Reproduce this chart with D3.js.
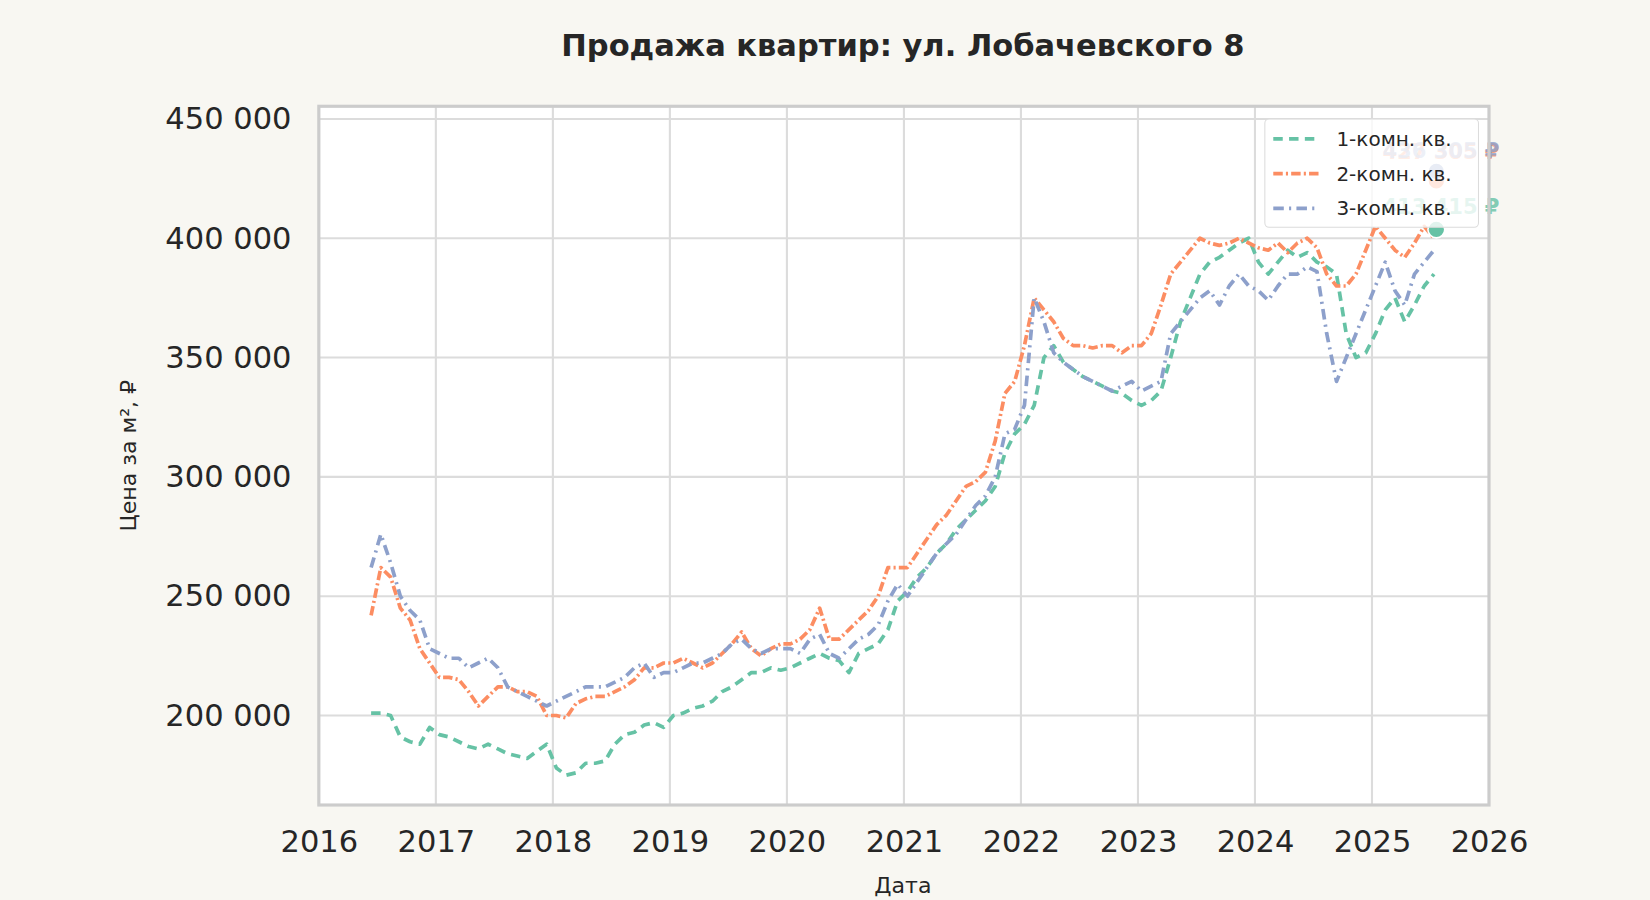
<!DOCTYPE html>
<html><head><meta charset="utf-8">
<script src="https://cdn.jsdelivr.net/npm/d3@7"></script>
<style>body{margin:0;background:#f8f7f2;font-family:"DejaVu Sans",sans-serif;}</style>
</head><body><div id="chart"></div>
<script>
// monthly values, thousands ₽ per m², from Jun 2016 to Jul 2025
const startYear = 2016 + 5/12;
const oneRoom = [201,201,200,191,189,188,195,
 192,191,189,187,186,188,186,184,183,182,185,188,
 178,175,176,180,180,181,188,192,193,196,197,195,
 200,201,203,204,206,210,212,215,218,218,220,219,
 220,222,224,226,224,223,218,226,228,230,236,248,
 252,258,262,268,272,278,282,286,290,296,310,318,
 322,330,350,355,348,345,342,340,338,336,335,332,
 330,332,336,350,365,375,385,390,392,395,398,400,
 390,385,390,395,392,394,390,388,385,360,350,352,
 360,370,375,365,372,380,385];
const twoRoom = [242,262,258,245,240,228,222,
 216,216,215,210,204,208,212,212,210,210,208,200,
 200,199,205,207,208,208,210,212,215,220,220,222,
 222,224,222,220,222,226,230,235,228,225,228,230,
 230,232,236,245,232,232,236,240,244,250,262,262,
 262,268,274,280,284,290,296,298,302,315,335,340,
 355,375,370,365,358,355,355,354,355,355,352,355,
 355,360,372,385,390,395,400,398,397,398,400,398,
 396,395,398,394,398,400,396,385,380,380,385,395,
 405,400,395,392,398,405,400];
const threeRoom = [262,276,264,250,244,240,228,
 226,224,224,220,222,224,220,212,210,208,206,204,
 206,208,210,212,212,212,214,216,220,222,216,218,
 218,220,222,222,224,226,230,232,228,226,228,228,
 228,226,232,234,226,224,228,232,234,238,248,255,
 250,256,262,268,272,276,282,288,292,300,318,320,
 330,375,365,352,348,345,342,340,338,336,338,340,
 336,338,340,360,365,370,375,378,372,380,385,380,
 378,374,380,385,385,388,386,360,340,350,360,370,
 380,390,378,372,385,390,395];
const seriesNames = ["1-комн. кв.","2-комн. кв.","3-комн. кв."];
const colors = ["#66c2a5","#fc8d62","#8da0cb"];
const dashes = ["9,6","9,3,2,3","10,5,2,5"];
const endDotValues = [403700, 424000, 428000];
const endLabelValues = [413400, 436300, 436800];
const endLabels = ["413 415 ₽","427 305 ₽","436 305 ₽"];
const yTicks = [200000,250000,300000,350000,400000,450000];
const xTicks = d3.range(2016, 2027);

const W = 1650, H = 900, k0 = 1650 / 1568;
const m = {left:303, right:1415, top:101, bottom:765};
const root = d3.select("#chart").append("svg").attr("width", W).attr("height", H);
const svg = root.append("g").attr("transform", `scale(${k0})`);
const x = d3.scaleLinear().domain([2016, 2026]).range([m.left, m.right]);
const y = d3.scaleLinear().domain([162500, 455300]).range([m.bottom, m.top]);
const fmt = v => d3.format(",")(v).replace(/,/g, " ");

svg.append("rect").attr("x", m.left).attr("y", m.top).attr("width", m.right - m.left)
  .attr("height", m.bottom - m.top).attr("fill", "#fff");

// grid
svg.append("g").selectAll("line").data(xTicks).join("line")
  .attr("x1", d => x(d)).attr("x2", d => x(d)).attr("y1", m.top).attr("y2", m.bottom)
  .attr("stroke", "#dcdcdc").attr("stroke-width", 2);
svg.append("g").selectAll("line").data(yTicks).join("line")
  .attr("y1", d => y(d)).attr("y2", d => y(d)).attr("x1", m.left).attr("x2", m.right)
  .attr("stroke", "#dcdcdc").attr("stroke-width", 2);

// axes
svg.append("g").attr("transform", `translate(0,${m.bottom})`)
  .call(d3.axisBottom(x).tickValues(xTicks).tickFormat(d3.format("d")).tickSize(0).tickPadding(24))
  .call(g => g.select(".domain").remove())
  .call(g => g.selectAll("text").attr("font-size", 29).attr("fill", "#262626").attr("font-family", "DejaVu Sans"));
svg.append("g").attr("transform", `translate(${m.left},0)`)
  .call(d3.axisLeft(y).tickValues(yTicks).tickFormat(fmt).tickSize(0).tickPadding(26))
  .call(g => g.select(".domain").remove())
  .call(g => g.selectAll("text").attr("font-size", 29).attr("fill", "#262626").attr("font-family", "DejaVu Sans"));

// lines
const all = [oneRoom, twoRoom, threeRoom];
const line = d3.line().x((d, i) => x(startYear + i / 12 + 0.03)).y(d => y(d * 1000));
const plot = svg.append("g");
all.forEach((s, k) => {
  plot.append("path").datum(s).attr("d", line).attr("fill", "none")
    .attr("stroke", colors[k]).attr("stroke-width", 3.5).attr("stroke-dasharray", dashes[k])
    .attr("stroke-linejoin", "round");
});

// end labels and dots
const lastX = x(2025.55);
endLabels.forEach((t, k) => {
  svg.append("text").attr("x", m.right + 10).attr("y", y(endLabelValues[k])).attr("dy", "0.35em")
    .attr("text-anchor", "end").attr("font-size", 20).attr("font-weight", "bold")
    .attr("fill", colors[k]).attr("opacity", 0.8).text(t);
});
endDotValues.forEach((v, k) => {
  svg.append("circle").attr("cx", lastX).attr("cy", y(v)).attr("r", 8)
    .attr("fill", colors[k]).attr("stroke", "#fff").attr("stroke-width", 1.5);
});

// frame
svg.append("rect").attr("x", m.left).attr("y", m.top).attr("width", m.right - m.left)
  .attr("height", m.bottom - m.top).attr("fill", "none").attr("stroke", "#cccccc").attr("stroke-width", 3);

// legend
const lg = svg.append("g").attr("transform", "translate(1202,113)");
lg.append("rect").attr("width", 203).attr("height", 103).attr("rx", 4)
  .attr("fill", "#fff").attr("fill-opacity", 0.8).attr("stroke", "#dcdcdc");
seriesNames.forEach((n, k) => {
  const yy = 19 + k * 33;
  lg.append("line").attr("x1", 8).attr("x2", 52).attr("y1", yy).attr("y2", yy)
    .attr("stroke", colors[k]).attr("stroke-width", 3.5).attr("stroke-dasharray", dashes[k]);
  lg.append("text").attr("x", 68).attr("y", yy).attr("dy", "0.35em").attr("font-size", 19)
    .attr("fill", "#262626").text(n);
});

// titles
svg.append("text").attr("x", 858).attr("y", 53).attr("text-anchor", "middle")
  .attr("font-size", 29).attr("font-weight", "bold").attr("fill", "#262626")
  .text("Продажа квартир: ул. Лобачевского 8");
svg.append("text").attr("x", 858).attr("y", 849).attr("text-anchor", "middle")
  .attr("font-size", 21).attr("fill", "#262626").text("Дата");
svg.append("text").attr("transform", "translate(129,433) rotate(-90)").attr("text-anchor", "middle")
  .attr("font-size", 21).attr("fill", "#262626").text("Цена за м², ₽");
</script></body></html>
